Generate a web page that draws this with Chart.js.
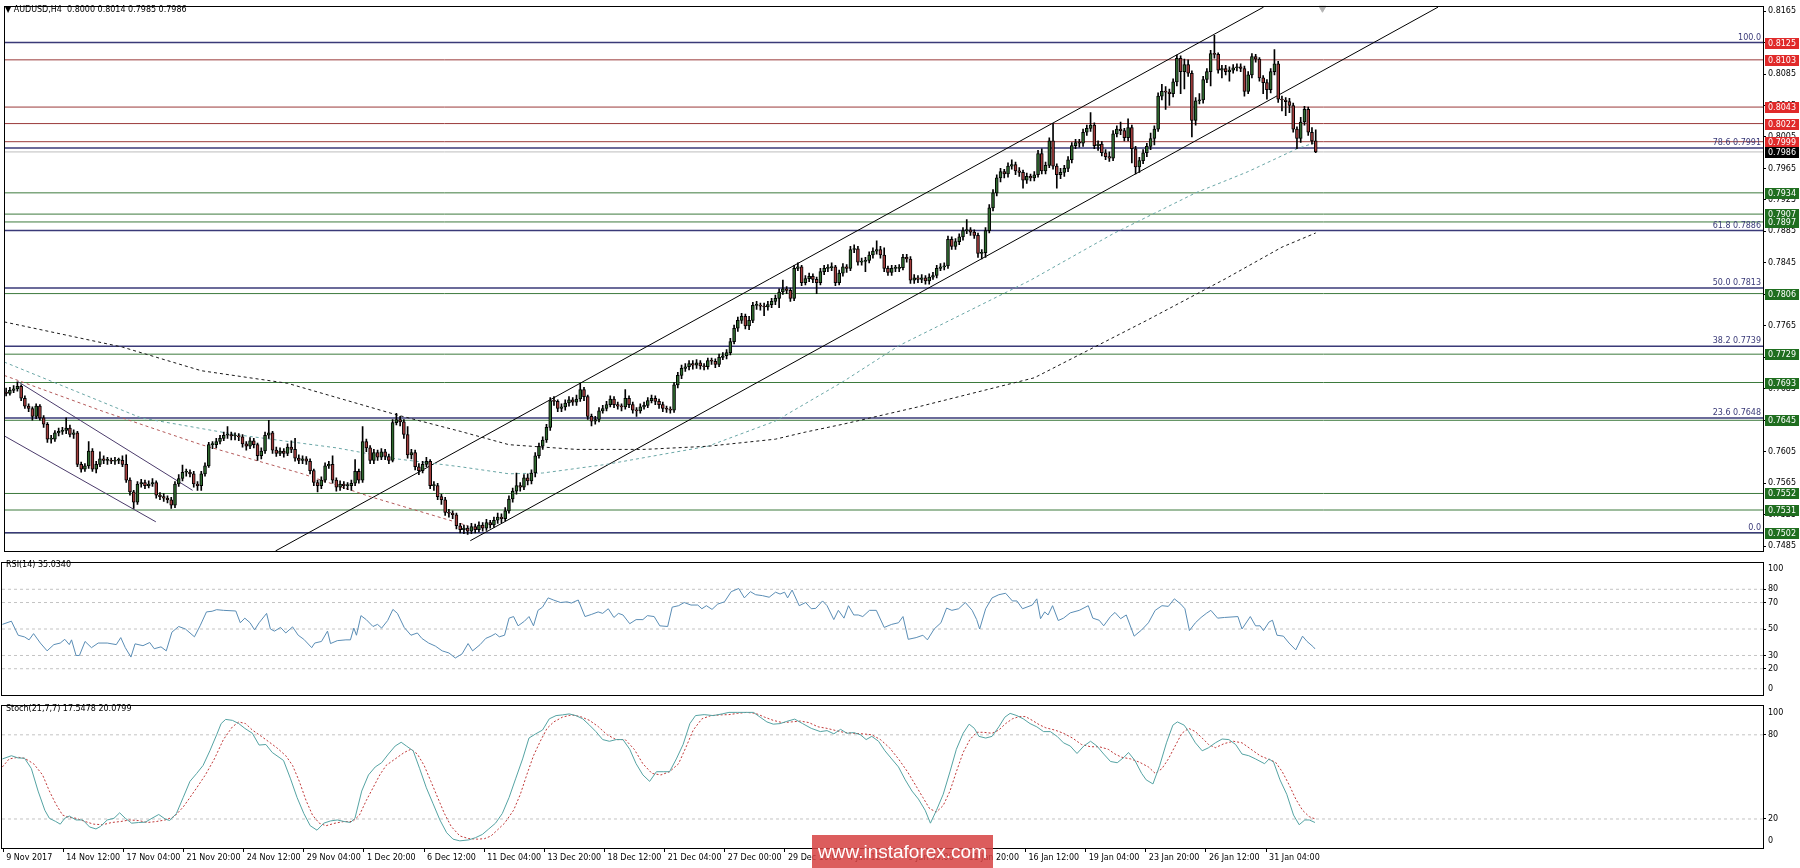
<!DOCTYPE html>
<html>
<head>
<meta charset="utf-8">
<script src="https://cdn.jsdelivr.net/npm/chart.js@4.4.1/dist/chart.umd.min.js"></script>
<style>
  html, body { margin: 0; padding: 0; background: #fff; }
  body { width: 1800px; height: 868px; position: relative; overflow: hidden; }
  canvas { position: absolute; left: 0; }
  .lbl { position: absolute; font: 8px 'DejaVu Sans', sans-serif; color: #000; white-space: pre; line-height: 10px; }
  #wm { position: absolute; left: 812px; top: 835px; width: 181px; height: 33px; background: rgba(214, 66, 66, 0.86);
        color: #fff; font: 19px 'Liberation Sans', Arial, sans-serif; text-align: center; line-height: 33px; }
</style>
</head>
<body>
<canvas id="cPrice" width="1800" height="558" style="top:0"></canvas>
<canvas id="cRsi" width="1800" height="146" style="top:556px"></canvas>
<canvas id="cStoch" width="1800" height="169" style="top:699px"></canvas>
<div class="lbl" style="left:5px;top:5px">▼ AUDUSD,H4  0.8000 0.8014 0.7985 0.7986</div>
<div class="lbl" style="left:6px;top:560px">RSI(14) 35.0340</div>
<div class="lbl" style="left:6px;top:704px">Stoch(21,7,7) 17.5478 20.0799</div>
<div id="wm">www.instaforex.com</div>
<script>
// ---- price data, in pips (0.7679 -> 7679), one value per H4 bar ----
const firstOpen = 7681;
const closes = [
  7679,7683,7685,7688,7673,7663,7660,7650,7663,7648,
  7640,7621,7621,7629,7631,7632,7635,7627,7629,7589,
  7583,7587,7606,7583,7589,7596,7594,7594,7593,7594,
  7594,7589,7569,7554,7541,7564,7566,7562,7564,7566,
  7550,7548,7546,7544,7537,7564,7571,7579,7579,7577,
  7564,7562,7577,7587,7614,7614,7618,7622,7626,7627,
  7625,7625,7624,7615,7612,7619,7614,7600,7606,7626,
  7629,7607,7603,7606,7603,7611,7608,7597,7594,7596,
  7593,7581,7566,7562,7569,7587,7589,7569,7560,7564,
  7562,7562,7565,7580,7569,7618,7610,7594,7604,7598,
  7605,7599,7594,7642,7646,7643,7627,7601,7604,7586,
  7581,7589,7593,7562,7562,7548,7544,7528,7527,7525,
  7511,7506,7508,7504,7510,7506,7512,7508,7515,7512,
  7518,7522,7520,7530,7545,7555,7562,7560,7572,7568,
  7578,7600,7612,7620,7636,7670,7669,7660,7662,7667,
  7671,7668,7672,7684,7675,7650,7644,7646,7657,7660,
  7665,7672,7665,7663,7662,7673,7665,7658,7657,7662,
  7664,7670,7673,7669,7665,7660,7659,7658,7690,7702,
  7711,7713,7717,7715,7718,7714,7713,7721,7720,7716,
  7725,7727,7731,7745,7762,7772,7777,7765,7772,7791,
  7791,7790,7789,7792,7796,7800,7808,7812,7810,7800,
  7838,7840,7820,7825,7828,7824,7820,7834,7838,7839,
  7840,7820,7832,7840,7838,7862,7863,7846,7847,7848,
  7855,7860,7862,7855,7838,7833,7838,7838,7839,7852,
  7850,7823,7826,7824,7826,7822,7827,7829,7838,7840,
  7841,7875,7866,7872,7878,7886,7887,7884,7880,7857,
  7858,7886,7915,7934,7953,7961,7958,7968,7970,7962,
  7960,7950,7955,7953,7957,7984,7962,7969,8000,7968,
  7957,7960,7965,7976,7994,7998,7997,8011,8016,8020,
  7994,7996,7985,7980,7978,8009,8015,8013,8004,8017,
  7990,7967,7975,7985,7993,8003,8015,8057,8063,8062,
  8060,8075,8105,8088,8097,8086,8026,8051,8052,8078,
  8088,8111,8110,8090,8092,8088,8090,8093,8094,8092,
  8063,8084,8107,8104,8080,8074,8065,8088,8098,8053,
  8052,8050,8045,8015,8003,8024,8040,8011,8000,7986
];
const highs = [
  7686,7687,7689,7694,7690,7676,7666,7662,7666,7665,
  7651,7642,7626,7632,7635,7636,7648,7639,7633,7631,
  7592,7590,7618,7609,7593,7605,7600,7598,7597,7598,
  7597,7600,7601,7572,7556,7567,7570,7569,7568,7571,
  7568,7553,7552,7549,7547,7567,7576,7588,7583,7582,
  7580,7567,7580,7591,7617,7618,7622,7626,7630,7637,
  7630,7629,7628,7627,7618,7623,7622,7616,7610,7630,
  7645,7631,7611,7610,7609,7615,7619,7622,7601,7600,
  7599,7596,7583,7569,7573,7591,7593,7600,7572,7568,
  7567,7566,7569,7595,7583,7637,7621,7613,7608,7607,
  7609,7608,7602,7646,7654,7650,7646,7637,7608,7607,
  7590,7593,7598,7595,7567,7565,7551,7547,7532,7530,
  7527,7514,7512,7511,7514,7513,7516,7515,7519,7518,
  7522,7527,7526,7534,7549,7559,7578,7566,7576,7577,
  7582,7604,7616,7624,7640,7674,7675,7671,7666,7671,
  7675,7674,7677,7692,7687,7677,7653,7650,7661,7664,
  7669,7676,7675,7668,7666,7684,7676,7668,7661,7666,
  7668,7674,7677,7676,7672,7668,7663,7662,7693,7706,
  7715,7717,7721,7721,7722,7721,7717,7724,7724,7723,
  7729,7731,7735,7749,7766,7776,7781,7780,7777,7795,
  7796,7794,7794,7796,7800,7804,7812,7823,7815,7813,
  7842,7845,7842,7829,7832,7831,7827,7838,7842,7843,
  7845,7842,7836,7844,7843,7866,7868,7866,7851,7852,
  7859,7864,7873,7866,7864,7841,7842,7842,7843,7856,
  7856,7853,7830,7829,7830,7829,7831,7833,7842,7844,
  7845,7879,7878,7876,7882,7890,7900,7890,7887,7883,
  7862,7890,7919,7938,7957,7965,7964,7972,7976,7973,
  7966,7963,7959,7958,7961,7988,7990,7973,8004,8022,
  7971,7965,7969,7980,7998,8002,8002,8015,8020,8036,
  8023,8000,7999,7989,7986,8013,8019,8024,8016,8028,
  8020,7993,7979,7989,7997,8010,8019,8061,8072,8069,
  8066,8079,8109,8108,8104,8103,8089,8055,8060,8082,
  8092,8115,8134,8112,8096,8096,8094,8097,8098,8098,
  8095,8088,8111,8110,8106,8083,8078,8092,8116,8101,
  8057,8055,8054,8048,8018,8030,8044,8043,8017,8014
];
const lows = [
  7676,7677,7680,7682,7670,7660,7656,7645,7647,7645,
  7636,7617,7616,7618,7625,7627,7628,7624,7622,7586,
  7579,7580,7584,7580,7578,7586,7590,7589,7590,7589,
  7590,7586,7566,7550,7533,7538,7560,7558,7559,7561,
  7546,7544,7542,7540,7533,7534,7561,7568,7574,7573,
  7560,7556,7556,7574,7585,7609,7610,7615,7619,7622,
  7620,7620,7619,7611,7607,7609,7610,7594,7596,7603,
  7622,7603,7599,7600,7598,7600,7604,7593,7590,7590,
  7589,7577,7562,7554,7558,7566,7584,7565,7555,7556,
  7558,7557,7556,7562,7565,7566,7605,7590,7590,7594,
  7595,7595,7590,7592,7639,7638,7622,7597,7596,7582,
  7576,7578,7586,7558,7556,7544,7538,7524,7522,7520,
  7507,7502,7501,7500,7501,7502,7503,7504,7505,7508,
  7509,7514,7515,7517,7527,7541,7551,7555,7557,7563,
  7564,7573,7597,7608,7617,7632,7664,7656,7656,7658,
  7663,7664,7664,7669,7670,7646,7638,7640,7643,7654,
  7657,7662,7661,7659,7657,7659,7661,7654,7650,7654,
  7659,7661,7667,7665,7660,7656,7655,7654,7655,7686,
  7698,7707,7709,7710,7711,7710,7709,7710,7716,7712,
  7713,7722,7723,7728,7742,7758,7768,7761,7760,7769,
  7786,7785,7778,7785,7788,7792,7788,7805,7806,7796,
  7797,7835,7816,7817,7821,7820,7806,7817,7830,7834,
  7835,7816,7817,7828,7833,7835,7858,7842,7842,7834,
  7845,7851,7856,7851,7834,7829,7829,7834,7834,7836,
  7846,7819,7819,7820,7820,7818,7818,7824,7826,7835,
  7836,7838,7862,7862,7868,7874,7882,7880,7876,7852,
  7850,7852,7883,7911,7930,7948,7953,7954,7964,7957,
  7955,7940,7946,7949,7949,7954,7958,7958,7966,7964,
  7940,7952,7955,7961,7972,7990,7992,7993,8007,8012,
  7990,7988,7981,7976,7974,7975,8005,8008,8000,8000,
  7972,7958,7960,7971,7980,7989,7995,8012,8052,8040,
  8045,8056,8070,8060,8066,8082,8005,8020,8047,8048,
  8074,8070,8105,8086,8080,8084,8076,8086,8089,8088,
  8057,8060,8080,8100,8076,8060,8053,8061,8084,8049,
  8038,8032,8036,8011,7990,7998,8020,8007,7996,7985
];

// moving averages and drawn lines: [bar index, pips]
const maSlow = [[-0.5,7770],[31,7738],[52,7708],[75,7692],[104,7652],[121,7631],[134,7614],[152,7608],[170,7608],[187,7612],[205,7621],[213,7630],[223,7640],[243,7662],[274,7699],[304,7772],[325,7825],[340,7865],[349,7883]];
const maMid = [[-0.5,7719],[36,7648],[61,7627],[88,7610],[104,7596],[121,7586],[134,7577],[143,7578],[160,7589],[187,7612],[205,7644],[223,7694],[238,7740],[273,7823],[295,7882],[317,7934],[331,7961],[344,7990],[349,7998]];
const maFast = [[-0.5,7702],[26,7656],[52,7614],[79,7577],[97,7548],[121,7514],[123,7511]];
const channelUpTop = [[71.8,7479],[335.1,8170]];
const channelUpBottom = [[123.7,7492],[381.6,8170]];
const channelDownTop = [[3.2,7694],[49.7,7556]];
const channelDownBottom = [[-0.8,7626],[39.9,7516]];

// horizontal levels
const resistLevels = [0.8125, 0.8103, 0.8043, 0.8022, 0.7999];
const supportLevels = [0.7934, 0.7907, 0.7897, 0.7806, 0.7729, 0.7693, 0.7645, 0.7552, 0.7531, 0.7502];
const fibLevels = [100.0, 78.6, 61.8, 50.0, 38.2, 23.6, 0.0];
const fibPrices = [0.8125, 0.7991, 0.7886, 0.7813, 0.7739, 0.7648, 0.7502];
const lastPrice = 0.7986;
const priceTicks = [0.8165,0.8125,0.8085,0.8045,0.8005,0.7965,0.7925,0.7885,0.7845,0.7805,0.7765,0.7725,0.7685,0.7645,0.7605,0.7565,0.7525,0.7485];

// oscillators: [bar index, value]
const rsiPts = [[-0.2,53.5],[2.2,55.9],[4,45.3],[5.7,44],[6.9,41.8],[8.1,46.5],[9.9,39.4],[11.7,33.5],[13.5,38.2],[15.2,39.4],[16.4,42.2],[17.6,38.2],[18.2,41.8],[19.4,30],[20.3,30],[21.8,40.6],[23.5,35.9],[25.3,39.4],[27.7,39.4],[30.1,38.2],[31.3,43.5],[32.5,35.9],[34,28.8],[35.1,38.8],[37.2,37.4],[39,39.8],[40.2,35.1],[42,36.5],[43.4,33.5],[44.9,47.6],[46.7,51.9],[48.5,50],[50.9,44.1],[52.4,52.4],[54.1,62.9],[55.6,63.4],[56.8,64.6],[58.6,64.1],[61.9,63.6],[63.1,54.7],[64.3,58.2],[65.7,54.7],[66.9,49.3],[68.1,54.7],[70.1,61.8],[71.1,50],[72.2,48.4],[73.8,51.2],[75.2,47],[77,51.6],[78.5,45.3],[80,42.2],[82.1,35.9],[82.9,39.4],[84.7,40.6],[86.3,48.4],[87.1,39],[88.9,41.2],[91.2,41.8],[92.4,41.8],[93.3,50.7],[94,45.3],[95.2,60.1],[96.6,57.1],[98.4,51.9],[99.6,53.5],[100.7,50.7],[102.3,56.4],[103.7,64.8],[104.9,61.8],[106.7,51.2],[108.5,45.3],[110.2,47],[111.4,42.9],[113.2,39.4],[115,37.1],[116.8,33.5],[118.6,31.9],[120.3,28.1],[122.1,31.2],[123.7,39],[124.9,33.5],[126.9,38.2],[128.4,42.9],[129.8,44.6],[131,46.5],[132,44.1],[133.4,45.3],[134.6,58.2],[135.8,59.4],[137,52.4],[138.7,55.9],[139.9,59.4],[141.1,52.4],[142.3,64.1],[143.5,66.5],[145,73.5],[146.5,71.8],[148.3,70],[150,70.5],[151.2,69.6],[153,71.9],[154.8,59.4],[156.6,61.1],[158.3,62.9],[159.5,61.8],[161,65.3],[162.5,58.7],[163.7,61.8],[164.9,60.6],[166.7,54],[168.4,57.1],[170.2,57.1],[171.4,60.1],[173.2,59.4],[174.7,52.4],[176.8,51.9],[178,66.5],[179.7,67.6],
  [181.2,70],[183,68.1],[184.8,68.1],[185.9,65.3],[187.1,67.6],[188.6,64.8],[190.1,68.8],[191.9,70.5],[193.7,78.2],[195.7,80.6],[197.2,73.5],[198.8,78.2],[200.2,75.9],[202,75.2],[203.8,74],[205.5,77.8],[206.7,76.4],[207.9,77.8],[208.7,73.5],[209.9,79.4],[211.8,67.6],[213.5,70],[215,65.3],[216.2,65.6],[218,71.2],[219.2,67.6],[221,57.1],[222.2,64.1],[223.7,58.2],[224.9,67.6],[226.3,60.6],[227.5,60.6],[228.7,59.4],[230.5,64.1],[232.3,64.1],[234.4,51.2],[236.4,53.5],[238.2,54.7],[239.4,59.4],[240.8,42.2],[242.9,43.5],[244.7,45.3],[245.9,41.8],[247.7,50],[249.5,54.7],[251,65.8],[252.4,64.1],[254.2,65.3],[256,70],[257.8,64.1],[259,57.1],[259.8,50],[261.4,65.3],[263.1,73.5],[264.9,75.9],[266.7,77],[268.5,71.2],[269.7,71.2],[271.2,65.3],[273.8,68.1],[275,72.8],[276,57.8],[277.1,62.9],[278,60.6],[279.2,67.6],[280.7,56.4],[282.1,58.2],[283.9,62.2],[286.3,64.1],[288.7,67.6],[289.9,58.2],[291.6,56.6],[292.8,52.4],[294.6,59.4],[295.8,62.5],[297.3,57.8],[298.8,60.6],[300.9,44.6],[302.9,49.3],[304.7,54.7],[306.5,64.1],[308.3,67.6],[310,67.1],[311.6,72.8],[313.3,68.8],[314.4,65.3],[315.6,48.8],[317.2,54.7],[318.7,58.7],[320.1,61.8],[321.3,64.1],[323.1,58.2],[324.9,58.7],[328.5,59.4],[329.6,50],[331.8,59.4],[333.2,52.4],[334.4,52.4],[335.3,48.8],[336.8,55.3],[337.7,56.6],[338.9,45.3],[340.6,44.6],[342.1,39.4],[343.9,34.2],[345.7,44.6],[346.9,40.6],[348.6,36.4],[349,35.0]];
const stochMain = [[-0.2,62.8],[2.2,65.1],[4,63.5],[5.7,63.3],[7.5,56],[9.3,39.9],[11.1,26.2],[12.3,20.5],[14,18.2],[15.2,16.3],[16.4,20.5],[17.6,22.1],[19.4,19.3],[21.2,19.3],[23,14.3],[24.7,12.9],[25.9,14.7],[27.7,19.3],[29.5,20.5],[31,24.4],[32.5,20.5],[34.2,17],[36,17.5],[37.8,17.7],[39.6,20.5],[41.4,23.2],[43.1,20],[44.3,18.9],[46.1,23.9],[47.9,35.3],[49.7,46.8],[51.5,52.5],[53.2,58.2],[55,68.6],[56.8,80],[58,88],[59.2,91],[61,90.3],[62.7,88],[64.3,84.6],[66.3,81.1],[68.1,72.7],[69.9,73.1],[71.6,67.4],[73.4,64],[74.6,61.7],[76.4,49.1],[78.2,35.3],[80,23.9],[81.7,15.2],[83.5,12],[85.3,17],[87.1,18.6],[88.9,19.3],[90.7,18.2],[92.4,17.5],[93.6,20.5],[95.4,39.9],[97.2,51.4],[99,57.1],[100.7,60.1],[102.5,66.3],[104.3,72],[105.9,74.7],[107.3,72],[109.1,68.6],[110.8,56],[112.6,42.2],[114.4,30.8],[116.2,19.3],[118,10.2],[119.7,5.6],[121.5,4.4],[123.9,5.1],[125.7,6.7],[127.5,9],[129.2,12.9],[131,17],[132.8,23.9],[134.6,35.3],[136.4,49.1],[138.2,62.8],[139.9,77.7],[141.7,80.7],[143.5,83.4],[145.3,91.4],[147.1,93.7],[148.8,94.2],[150.6,94.9],[152.4,93.7],[154.2,91.4],[156,86.9],[157.7,82.3],[159.5,76.6],[161.3,75.4],[163.1,76.6],[164.9,76.6],[166.7,69.7],[168.4,59.4],[170.2,51.4],[172,46.8],[173.8,53.7],[175.6,53.7],[177.3,53.7],[179.1,62.8],[180.9,73.1],[182.7,88],[184.2,93.7],[186.5,94.4],[188.9,93.7],[191.3,94.9],[193.1,96],[195.4,96],[197.8,96],[199.6,96],[201.4,92.6],[203.2,89.2],[204.9,87.6],[206.7,88],[208.5,89.6],[210.6,91.2],[212.7,88],[215,84.6],[217.4,82.3],[219.2,83],[221,80.7],[222.8,83.9],[224.5,81.1],[226.3,81.6],[228.1,80],[229.6,76.6],[231.1,78.9],[232.9,75.4],[234.6,68.6],[236.4,62.8],[238.2,57.1],[240,47.9],[241.8,39.9],[243.5,34.2],[245.3,26.2],[246.7,17],[248.3,26.2],[250.1,37.6],[251.9,53.7],[253.6,69.7],[255.4,81.1],[257,87.6],[258.4,84.6],[259.6,78.9],[261.4,77.7],[263.1,78.9],[264.9,85.7],[266.5,92.6],[267.9,95.3],[269.7,93.7],[271.4,91.4],[273.2,88],[275,85.7],[276.8,82.3],[278.6,82.3],[280.4,78.9],[282.1,74.3],[283.9,72],[285.7,66.7],[287.5,72],[289.3,75.4],[291,72],[292.8,66.3],[294.6,61],[296.4,60.1],[298.2,64],[299.4,67.4],[301.1,61.7],[302.9,52.5],[304.1,47.9],[305.9,45],[307.7,58.2],[309.5,74.3],[311.2,86.9],[312.4,89.2],[314.2,86.9],[315.4,82.3],[317.2,74.3],[319,68.6],[320.7,70.8],[322.5,74.3],[324.3,77],[326.1,76.6],[327.9,73.1],[329.6,66.3],[331.4,65.1],[333.2,62.8],[335.6,59.4],[336.8,62.8],[338,60.5],[339.7,47.9],[341.5,37.6],[343.3,22.8],[344.8,15.9],[346.3,19.3],[347.5,19.3],[349,17.5]];
const stochSignal = [[-0.2,57.1],[1.6,62.8],[4,64],[5.7,63.3],[8.1,59.4],[10.5,51.4],[12.3,39.9],[14,30.8],[15.8,22.8],[17.6,21.1],[19.4,20.5],[21.8,18.2],[24.1,16.3],[26.5,15.9],[28.9,17.5],[31.3,18.2],[33.6,19.3],[36,18.9],[38.4,17.5],[40.8,18.2],[43.1,19.3],[45.5,21.6],[47.9,28.5],[49.7,35.3],[51.5,42.2],[53.8,51.4],[56.2,62.8],[58.6,76.6],[61,85.7],[62.7,89.2],[64.5,88],[66.3,83.4],[68.7,78.9],[70.5,75.4],[72.8,70.8],[75.2,65.1],[77,58.2],[78.8,46.8],[80.6,33.1],[82.3,22.8],[84.1,17],[85.9,15.2],[88.3,17],[90.7,18.2],[93,18.2],[94.8,22.8],[96.6,33.1],[98.4,42.2],[100.2,51.4],[101.9,58.2],[104.3,62.8],[106.7,67.4],[108.5,69.7],[110.2,66.3],[112,58.2],[113.8,46.8],[115.6,35.3],[117.4,23.9],[119.2,14.7],[121.5,7.9],[123.9,6],[126.3,5.6],[128.1,6],[129.8,7.9],[131.6,12.4],[133.4,17],[135.8,26.2],[137.6,37.6],[139.3,51.4],[141.1,65.1],[142.9,75.4],[144.7,84.6],[146.5,89.2],[148.8,92.6],[151.2,94.2],[153.6,93],[156,90.3],[158.4,85.7],[160.7,80],[163.1,76.6],[165.5,76.6],[167.9,69.7],[170.2,59.4],[172.6,52.5],[175,51.4],[177.3,53.7],[179.7,59.4],[181.8,72],[183.6,83.4],[185.9,91.4],[188.3,93.7],[190.7,94.2],[193.1,94.4],[195.4,95.3],[197.8,96],[200.2,95.3],[202.6,92.6],[204.9,90.3],[207.3,88.7],[209.7,89.2],[212.1,89.8],[214.4,88.7],[216.8,85.7],[219.2,84.6],[221.6,83],[223.9,81.6],[226.3,81.1],[228.7,80.7],[231.1,80],[233.4,76.6],[235.8,70.8],[238.2,62.8],[240.6,53.7],[242.9,43.4],[244.7,35.3],[246.5,27.3],[248.3,25],[250.1,29.6],[251.9,39.9],[253.6,53.7],[255.4,67.4],[257.2,76.6],[259,81.8],[260.8,81.8],[263.1,81.1],[264.9,83.4],[266.7,88],[268.5,91.4],[270.3,93],[272,93],[273.8,90.3],[275.6,87.3],[277.4,85],[279.8,83.4],[282.1,81.1],[284.5,77.7],[286.9,73.1],[289.3,71.5],[291.6,71.5],[294,69.7],[295.8,66.3],[297.6,64],[300,62.8],[302.3,60.5],[304.7,57.1],[306.5,52.5],[308.3,55.9],[310,62.8],[311.8,72],[313.6,81.1],[315.4,84.6],[317.2,82.3],[319,77.7],[320.7,73.1],[322.5,70.8],[324.9,73.8],[327.3,75.4],[329.6,74.3],[332,69.7],[334.4,65.1],[336.8,62.4],[338.5,60.5],[340.3,53.7],[342.1,44.5],[343.9,34.2],[345.7,26.2],[347.5,21.6],[349,20.1]];
const rsiLevels = [80, 70, 50, 30, 20];
const stochLevels = [80, 20];

// time axis: a label every 16 bars
const dateTickBars = [0,16,32,48,64,80,96,112,128,144,160,176,192,208,224,240,256,272,288,304,320,336];
const dateTickLabels = ['9 Nov 2017','14 Nov 12:00','17 Nov 04:00','21 Nov 20:00','24 Nov 12:00','29 Nov 04:00','1 Dec 20:00','6 Dec 12:00','11 Dec 04:00','13 Dec 20:00','18 Dec 12:00','21 Dec 04:00','27 Dec 00:00','29 Dec 16:00','4 Jan 12:00','9 Jan 04:00','11 Jan 20:00','16 Jan 12:00','19 Jan 04:00','23 Jan 20:00','26 Jan 12:00','31 Jan 04:00'];

const X_MIN = -0.3, X_MAX = 468.2;
const FONT = { family: 'DejaVu Sans', size: 8 };
const BULL = '#2f6a2f', BEAR = '#a23c3c';
const RES_COL = '#9a3a3a', SUP_COL = '#3d7a3d', FIB_COL = '#3a3a78';

Chart.defaults.font.family = 'DejaVu Sans';

const pip = v => v / 10000;
const opens = closes.map((c, i) => i ? closes[i - 1] : firstOpen);

function line(points, color, dash, width, order, toPrice) {
  return {
    type: 'line',
    data: points.map(p => ({ x: p[0], y: toPrice ? pip(p[1]) : p[1] })),
    borderColor: color, borderWidth: width || 1, borderDash: dash || [],
    pointRadius: 0, fill: false, tension: 0, order: order
  };
}
const hline = (v, color, width, dash) => line([[X_MIN, v], [X_MAX, v]], color, dash, width, 6, false);

function xScale(show) {
  return {
    type: 'linear', min: X_MIN, max: X_MAX, offset: false, display: show,
    afterBuildTicks: s => { s.ticks = dateTickBars.map(v => ({ value: v })); },
    afterFit: s => { s.height = show ? 20 : 0; },
    ticks: { font: FONT, color: '#000', align: 'start', labelOffset: 3, maxRotation: 0, autoSkip: false, padding: 1,
             callback: (v, i) => dateTickLabels[i] },
    grid: { drawOnChartArea: false, tickLength: 4, color: '#000' },
    border: { color: '#000' }
  };
}
function yScale(min, max, ticks, fmt) {
  return {
    position: 'right', min: min, max: max,
    afterBuildTicks: s => { s.ticks = ticks.map(v => ({ value: v })); },
    afterFit: s => { s.width = 37; },
    ticks: { font: FONT, color: '#000', padding: 2, autoSkip: false, callback: fmt },
    grid: { drawOnChartArea: false, tickLength: 3, color: '#000' },
    border: { color: '#000' }
  };
}

const framePlugin = {
  id: 'frame',
  afterDraw(chart) {
    const { ctx, chartArea: a } = chart;
    ctx.save();
    ctx.strokeStyle = '#000';
    ctx.lineWidth = 1;
    ctx.strokeRect(Math.round(a.left) - 0.5, Math.round(a.top) - 0.5, Math.round(a.right - a.left) + 1, Math.round(a.bottom - a.top) + 1);
    ctx.restore();
  }
};

// fibo texts and coloured price boxes on the right scale
const priceLabels = {
  id: 'priceLabels',
  afterDraw(chart) {
    const { ctx, chartArea: a } = chart;
    const y = chart.scales.y;
    ctx.save();
    ctx.font = '8px "DejaVu Sans"';
    ctx.fillStyle = FIB_COL;
    ctx.textAlign = 'right';
    ctx.textBaseline = 'bottom';
    fibLevels.forEach((lv, i) => {
      const txt = (lv === 100 || lv === 0) ? lv.toFixed(1) : lv.toFixed(1) + ' ' + fibPrices[i].toFixed(4);
      ctx.fillText(txt, a.right - 2, y.getPixelForValue(fibPrices[i]) - 1);
    });
    const box = (v, bg) => {
      const yy = Math.round(y.getPixelForValue(v));
      ctx.fillStyle = bg;
      ctx.fillRect(a.right + 2, yy - 5, 34, 11);
      ctx.fillStyle = '#fff';
      ctx.textAlign = 'left';
      ctx.textBaseline = 'middle';
      ctx.fillText(v.toFixed(4), a.right + 5, yy + 0.5);
    };
    resistLevels.forEach(v => box(v, '#e02a2a'));
    box(lastPrice, '#000');
    supportLevels.forEach(v => box(v, '#1f6e1f'));
    ctx.restore();
  }
};

// "100" and "0" bounds of the oscillator windows
const oscBounds = {
  id: 'oscBounds',
  afterDraw(chart) {
    const { ctx, chartArea: a } = chart;
    const y = chart.scales.y;
    ctx.save();
    ctx.font = '8px "DejaVu Sans"';
    ctx.fillStyle = '#000';
    ctx.textAlign = 'left';
    ctx.textBaseline = 'middle';
    ctx.fillText('100', a.right + 5, y.getPixelForValue(100) + 6);
    ctx.fillText('0', a.right + 5, y.getPixelForValue(0) - 6);
    ctx.restore();
  }
};

function options(padTop, padBottom, showX, y) {
  return {
    responsive: false, animation: false,
    layout: { padding: { left: 2, right: 0, top: padTop, bottom: padBottom } },
    plugins: { legend: { display: false }, tooltip: { enabled: false } },
    scales: { x: xScale(showX), y: y }
  };
}

// ---- price window ----
const priceSets = [
  {
    type: 'bar', order: 0, grouped: false, barThickness: 3, minBarLength: 1,
    data: closes.map((c, i) => ({ x: i, y: [pip(opens[i]), pip(c)] })),
    backgroundColor: closes.map((c, i) => c >= opens[i] ? BULL : BEAR),
    borderColor: '#000', borderWidth: 1, borderSkipped: false
  },
  {
    type: 'bar', order: 1, grouped: false, barThickness: 1,
    data: closes.map((c, i) => ({ x: i, y: [pip(lows[i]), pip(highs[i])] })),
    backgroundColor: '#000'
  },
  line(maSlow, '#1a1a1a', [3, 3], 1, 2, true),
  line(maMid, '#6aa6a6', [3, 3], 1, 2, true),
  line(maFast, '#b45a5a', [3, 3], 1, 2, true),
  line(channelUpTop, '#000', [], 1, 3, true),
  line(channelUpBottom, '#000', [], 1, 3, true),
  line(channelDownTop, '#4b3b6b', [], 1, 3, true),
  line(channelDownBottom, '#4b3b6b', [], 1, 3, true),
  {
    type: 'line', order: 3, data: [{ x: 350.8, y: 0.81685 }], showLine: false, clip: false,
    pointStyle: 'triangle', rotation: 180, pointRadius: 4, backgroundColor: '#b4b4b4', borderColor: '#b4b4b4'
  }
];
fibPrices.forEach(v => priceSets.push(hline(v, FIB_COL, 1.5)));
resistLevels.forEach(v => priceSets.push(hline(v, RES_COL, 1)));
supportLevels.forEach(v => priceSets.push(hline(v, SUP_COL, 1)));
priceSets.push(hline(lastPrice, '#bdbdbd', 1));

new Chart(document.getElementById('cPrice'), {
  type: 'bar',
  data: { datasets: priceSets },
  options: options(3, 3, false, yScale(0.747866, 0.81704, priceTicks, v => Number(v).toFixed(4))),
  plugins: [framePlugin, priceLabels]
});

// ---- RSI window ----
const rsiSets = [line(rsiPts, '#5a8db5', [], 1, 0, false)];
rsiLevels.forEach(v => rsiSets.push(line([[X_MIN, v], [X_MAX, v]], '#c4c4c4', [3, 3], 1, 5, false)));
new Chart(document.getElementById('cRsi'), {
  type: 'line',
  data: { datasets: rsiSets },
  options: options(2, 4, false, yScale(0, 100, rsiLevels, v => String(v))),
  plugins: [framePlugin, oscBounds]
});

// ---- Stochastic window ----
const stochSets = [
  line(stochMain, '#55a3a3', [], 1, 0, false),
  line(stochSignal, '#c03a3a', [2, 2], 1, 1, false)
];
stochLevels.forEach(v => stochSets.push(line([[X_MIN, v], [X_MAX, v]], '#c4c4c4', [3, 3], 1, 5, false)));
new Chart(document.getElementById('cStoch'), {
  type: 'line',
  data: { datasets: stochSets },
  options: options(2, 0, true, yScale(-0.69, 100.69, stochLevels, v => String(v))),
  plugins: [framePlugin, oscBounds]
});
</script>
</body>
</html>
